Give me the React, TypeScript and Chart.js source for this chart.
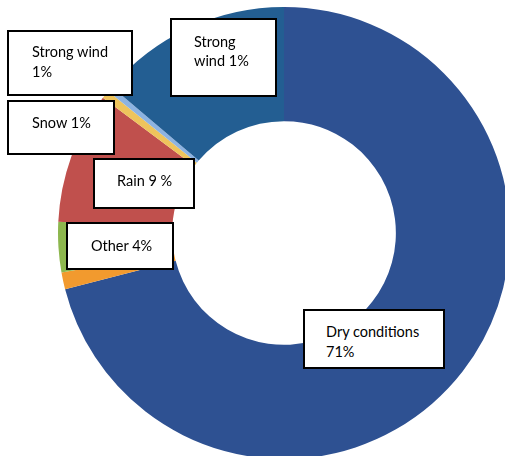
import React, { useEffect, useRef } from "react";
import { Chart, registerables } from "chart.js";

Chart.register(...registerables);

const categories = ["Dry conditions", "Unknown", "Other", "Rain", "Snow", "Strong wind", "Strong wind (gusts)"];
const values = [71, 1.2, 3.6, 9.4, 0.6, 0.4, 13.8];
const colors = ["#2E5192", "#F29A2E", "#8DB74E", "#C0504D", "#EEC45C", "#8DB3E1", "#235E92"];

type Note = { lines: string[]; box: [number, number, number, number]; tx: number; ty: number; lh: number };
const notes: Note[] = [
  { lines: ["Strong wind", "1%"], box: [7, 30, 126, 66], tx: 32, ty: 42, lh: 20 },
  { lines: ["Strong", "wind 1%"], box: [170, 18, 107, 79], tx: 194, ty: 32, lh: 19 },
  { lines: ["Snow 1%"], box: [7, 100, 108, 55], tx: 32, ty: 113, lh: 20 },
  { lines: ["Rain 9 %"], box: [93, 158, 102, 51], tx: 117, ty: 171, lh: 20 },
  { lines: ["Other 4%"], box: [66, 222, 108, 48], tx: 91, ty: 236, lh: 20 },
  { lines: ["Dry conditions", "71%"], box: [303, 309, 142, 60], tx: 326, ty: 322, lh: 20 },
];

export default function App() {
  const ref = useRef<HTMLCanvasElement>(null);
  useEffect(() => {
    if (!ref.current) return;
    const chart = new Chart(ref.current, {
      type: "doughnut",
      data: {
        labels: categories,
        datasets: [
          {
            data: values,
            backgroundColor: colors,
            borderWidth: 0,
            hoverOffset: 0,
            offset: 0,
          },
        ],
      },
      options: {
        responsive: false,
        animation: false,
        cutout: "49.5%",
        layout: { padding: 0 },
        plugins: { legend: { display: false }, tooltip: { enabled: false }, title: { display: false } },
        events: [],
      },
    });
    return () => chart.destroy();
  }, []);

  return (
    <div style={{ position: "fixed", left: 0, top: 0, width: 505, height: 456, overflow: "hidden", background: "#fff" }}>
      <canvas ref={ref} width={452} height={452} style={{ position: "absolute", left: 58, top: 7, width: 452, height: 452 }} />
      {notes.map((n, i) => (
        <React.Fragment key={i}>
          <div
            style={{
              position: "absolute",
              left: n.box[0],
              top: n.box[1],
              width: n.box[2],
              height: n.box[3],
              boxSizing: "border-box",
              border: "2px solid #000",
              background: "#fff",
            }}
          />
          <div
            style={{
              position: "absolute",
              left: n.tx,
              top: n.ty,
              fontFamily: "Lato, 'Open Sans', sans-serif",
              fontSize: 14.5,
              lineHeight: n.lh + "px",
              color: "#000",
              whiteSpace: "nowrap",
            }}
          >
            {n.lines.map((l, j) => (
              <div key={j}>{l}</div>
            ))}
          </div>
        </React.Fragment>
      ))}
    </div>
  );
}
